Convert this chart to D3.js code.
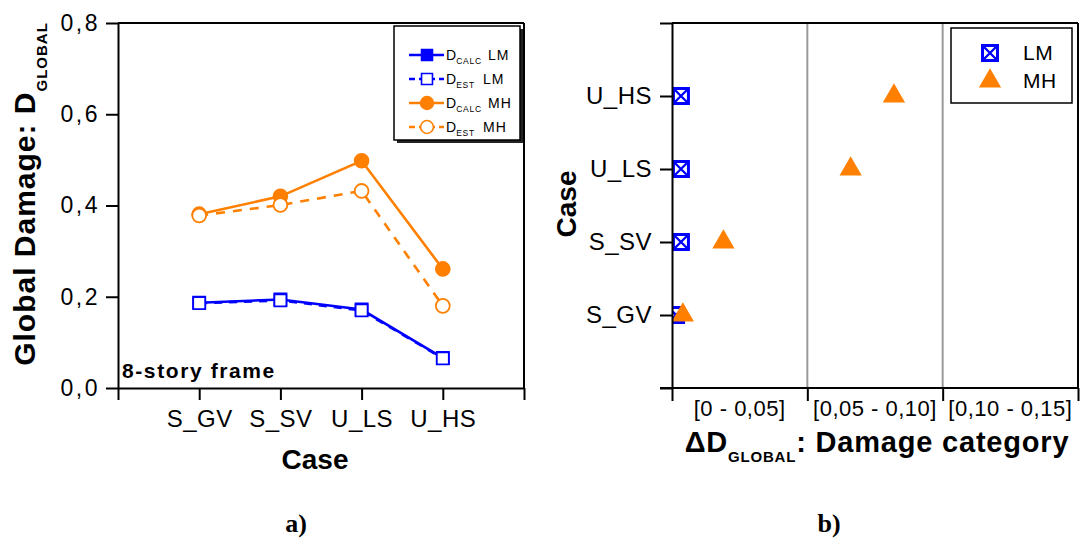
<!DOCTYPE html>
<html>
<head>
<meta charset="utf-8">
<script src="https://cdn.jsdelivr.net/npm/d3@7"></script>
<style>
  body { margin: 0; background: #fff; }
  svg { display: block; }
  text { font-family: "Liberation Sans", Arial, sans-serif; fill: #000; }
</style>
</head>
<body>
<svg id="fig" width="1080" height="543"></svg>
<script>
// ---- data ----
const cases = ["S_GV", "S_SV", "U_LS", "U_HS"];
// panel a) global damage index per case
const calcLM = [0.187, 0.194, 0.172, 0.066];
const estLM  = [0.186, 0.192, 0.170, 0.065];
const calcMH = [0.381, 0.420, 0.498, 0.261];
const estMH  = [0.378, 0.401, 0.432, 0.180];
const yTicksA = [0, 0.2, 0.4, 0.6, 0.8];
// panel b) difference between calculated and estimated damage
const deltaLM = [0.0015, 0.0033, 0.0033, 0.0033];
const deltaMH = [0.004, 0.019, 0.066, 0.082];
const categoryBounds = [0, 0.05, 0.10, 0.15];
const categoryLabels = ["[0 - 0,05]", "[0,05 - 0,10]", "[0,10 - 0,15]"];

const BLUE = "#0000ff", ORANGE = "#ff8000";
const svg = d3.select("#fig");
const comma = d => d3.format(".1f")(d).replace(".", ",");

// =========== panel a) ===========
const xA = d3.scaleLinear().domain([0, 5]).range([118, 524]);
const yA = d3.scaleLinear().domain([0, 0.8]).range([388, 23]);
const gA = svg.append("g");

// frame top / right
gA.append("line").attr("x1", xA(0)).attr("x2", xA(5)).attr("y1", yA(0.8)).attr("y2", yA(0.8))
  .attr("stroke", "#000").attr("stroke-width", 2);
gA.append("line").attr("x1", xA(5)).attr("x2", xA(5)).attr("y1", yA(0.8)).attr("y2", yA(0))
  .attr("stroke", "#000").attr("stroke-width", 2);

function styleAxis(g, size, spacing) {
  g.select(".domain").attr("stroke", "#000").attr("stroke-width", 2);
  g.selectAll(".tick line").attr("stroke", "#000").attr("stroke-width", 2);
  g.selectAll(".tick text").attr("font-size", size)
    .attr("font-family", "Liberation Sans, Arial, sans-serif")
    .attr("letter-spacing", spacing).attr("fill", "#000");
}

const axYA = gA.append("g").attr("transform", `translate(${xA(0)},0)`)
  .call(d3.axisLeft(yA).tickValues(yTicksA).tickSize(12).tickSizeOuter(0).tickPadding(6).tickFormat(comma));
styleAxis(axYA, 23, 2.5);

const axXA = gA.append("g").attr("transform", `translate(0,${yA(0)})`)
  .call(d3.axisBottom(xA).tickValues([0, 1, 2, 3, 4, 5]).tickSize(12).tickSizeOuter(0).tickPadding(10)
    .tickFormat(d => cases[d - 1] || ""));
styleAxis(axXA, 24, 0.5);

// series
const lineA = d3.line().x((d, i) => xA(i + 1)).y(d => yA(d));
const series = [
  { vals: calcLM, color: BLUE,   dash: null,  shape: d3.symbolSquare, fill: true },
  { vals: estLM,  color: BLUE,   dash: "8,7", shape: d3.symbolSquare, fill: false },
  { vals: calcMH, color: ORANGE, dash: null,  shape: d3.symbolCircle, fill: true },
  { vals: estMH,  color: ORANGE, dash: "9,8", shape: d3.symbolCircle, fill: false }
];
series.forEach(s => {
  gA.append("path").datum(s.vals).attr("d", lineA).attr("fill", "none")
    .attr("stroke", s.color).attr("stroke-width", 2.6)
    .attr("stroke-dasharray", s.dash);
  const size = s.shape === d3.symbolSquare ? 144 : 150;
  gA.selectAll(null).data(s.vals).enter().append("path")
    .attr("d", d3.symbol().type(s.shape).size(size))
    .attr("transform", (d, i) => `translate(${xA(i + 1)},${yA(d)})`)
    .attr("fill", s.fill ? s.color : "#fff")
    .attr("stroke", s.color).attr("stroke-width", 1.8);
});

gA.append("text").attr("x", 122).attr("y", 378)
  .attr("font-size", 21).attr("font-weight", "bold").attr("letter-spacing", 1.6)
  .text("8-story frame");

// legend a)
const legA = gA.append("g");
legA.append("rect").attr("x", 397).attr("y", 29).attr("width", 126).attr("height", 114).attr("fill", "#222");
legA.append("rect").attr("x", 394).attr("y", 26).attr("width", 126).attr("height", 114)
  .attr("fill", "#fff").attr("stroke", "#000").attr("stroke-width", 1.5);
const legRows = [
  { s: series[0], sub: "CALC", name: "LM", nx: 488 },
  { s: series[1], sub: "EST",  name: "LM", nx: 483 },
  { s: series[2], sub: "CALC", name: "MH", nx: 488 },
  { s: series[3], sub: "EST",  name: "MH", nx: 483 }
];
legRows.forEach((r, i) => {
  const y = 55 + i * 24;
  legA.append("line").attr("x1", 409).attr("x2", 444).attr("y1", y).attr("y2", y)
    .attr("stroke", r.s.color).attr("stroke-width", 2.4)
    .attr("stroke-dasharray", r.s.dash ? "6,4" : null);
  legA.append("path").attr("d", d3.symbol().type(r.s.shape).size(r.s.shape === d3.symbolSquare ? 120 : 130))
    .attr("transform", `translate(427,${y})`)
    .attr("fill", r.s.fill ? r.s.color : "#fff").attr("stroke", r.s.color).attr("stroke-width", 1.6);
  const t = legA.append("text").attr("x", 446).attr("y", y + 5).attr("font-size", 14);
  t.append("tspan").text("D");
  t.append("tspan").attr("dy", 4).attr("font-size", 8.5).attr("letter-spacing", 0.8).text(r.sub);
  legA.append("text").attr("x", r.nx).attr("y", y + 5).attr("font-size", 14).attr("letter-spacing", 1)
    .text(r.name);
});

// axis titles a)
const ytA = svg.append("text").attr("transform", "translate(35,194) rotate(-90)")
  .attr("text-anchor", "middle").attr("font-size", 30).attr("font-weight", "bold").attr("letter-spacing", 1);
ytA.append("tspan").text("Global Damage: D");
ytA.append("tspan").attr("dy", 12).attr("font-size", 15).text("GLOBAL");

svg.append("text").attr("x", 315).attr("y", 469).attr("text-anchor", "middle")
  .attr("font-size", 28).attr("font-weight", "bold").text("Case");

svg.append("text").attr("x", 296).attr("y", 532).attr("text-anchor", "middle")
  .attr("font-size", 26).attr("font-weight", "bold")
  .style("font-family", "Liberation Serif, Times New Roman, serif").text("a)");

// =========== panel b) ===========
const xB = d3.scaleLinear().domain([0, 0.15]).range([672, 1078]);
const yB = d3.scaleLinear().domain([0, 5]).range([388, 23]);
const gB = svg.append("g");

// category separators
gB.selectAll(null).data(categoryBounds.slice(1, 3)).enter().append("line")
  .attr("x1", d => xB(d)).attr("x2", d => xB(d)).attr("y1", yB(5)).attr("y2", yB(0))
  .attr("stroke", "#9a9a9a").attr("stroke-width", 2);

gB.append("line").attr("x1", xB(0)).attr("x2", xB(0.15)).attr("y1", yB(5)).attr("y2", yB(5))
  .attr("stroke", "#000").attr("stroke-width", 2);
gB.append("line").attr("x1", xB(0.15)).attr("x2", xB(0.15)).attr("y1", yB(5)).attr("y2", yB(0))
  .attr("stroke", "#000").attr("stroke-width", 2);

// markers clipped to the plot area
svg.append("defs").append("clipPath").attr("id", "clipB").append("rect")
  .attr("x", xB(0)).attr("y", yB(5)).attr("width", xB(0.15) - xB(0)).attr("height", yB(0) - yB(5));
const mB = gB.append("g").attr("clip-path", "url(#clipB)");

function boxX(g, cx, cy) {
  const h = 7.5;
  g.append("rect").attr("x", cx - h).attr("y", cy - h).attr("width", 2 * h).attr("height", 2 * h)
    .attr("fill", "#fff").attr("stroke", BLUE).attr("stroke-width", 3);
  g.append("path").attr("d", `M${cx - h},${cy - h}L${cx + h},${cy + h}M${cx + h},${cy - h}L${cx - h},${cy + h}`)
    .attr("stroke", BLUE).attr("stroke-width", 2.4);
}
deltaLM.forEach((d, i) => boxX(mB, xB(d), yB(i + 1)));
mB.selectAll(null).data(deltaMH).enter().append("path")
  .attr("d", d3.symbol().type(d3.symbolTriangle).size(215))
  .attr("transform", (d, i) => `translate(${xB(d)},${yB(i + 1)})`)
  .attr("fill", ORANGE);

const axYB = gB.append("g").attr("transform", `translate(${xB(0)},0)`)
  .call(d3.axisLeft(yB).tickValues([0, 1, 2, 3, 4, 5]).tickSize(12).tickSizeOuter(0).tickPadding(8)
    .tickFormat(d => cases[d - 1] || ""));
styleAxis(axYB, 24, 0.5);

const axXB = gB.append("g").attr("transform", `translate(0,${yB(0)})`)
  .call(d3.axisBottom(xB).tickValues(categoryBounds).tickSize(13).tickSizeOuter(0).tickFormat(""));
styleAxis(axXB, 22, 0);
axXB.select(".domain").attr("d", `M${xB(0) - 12},0H${xB(0.15)}`);

gB.selectAll(null).data(categoryLabels).enter().append("text")
  .attr("x", (d, i) => xB((categoryBounds[i] + categoryBounds[i + 1]) / 2))
  .attr("y", 416).attr("text-anchor", "middle").attr("font-size", 22).attr("letter-spacing", 0.5)
  .text(d => d);

// legend b)
const legB = gB.append("g");
legB.append("rect").attr("x", 951).attr("y", 28).attr("width", 121).attr("height", 75)
  .attr("fill", "#fff").attr("stroke", "#000").attr("stroke-width", 1.5);
boxX(legB, 990, 53);
legB.append("path").attr("d", d3.symbol().type(d3.symbolTriangle).size(215))
  .attr("transform", "translate(990,81)").attr("fill", ORANGE);
legB.append("text").attr("x", 1023).attr("y", 60).attr("font-size", 21).attr("letter-spacing", 0.5).text("LM");
legB.append("text").attr("x", 1023).attr("y", 88).attr("font-size", 21).attr("letter-spacing", 0.5).text("MH");

// axis titles b)
svg.append("text").attr("transform", "translate(576,204) rotate(-90)").attr("text-anchor", "middle")
  .attr("font-size", 28).attr("font-weight", "bold").text("Case");

const xtB = svg.append("text").attr("x", 877).attr("y", 452).attr("text-anchor", "middle")
  .attr("font-size", 29).attr("font-weight", "bold").attr("letter-spacing", 0.8);
xtB.append("tspan").text("\u0394D");
xtB.append("tspan").attr("dy", 10).attr("font-size", 15).text("GLOBAL");
xtB.append("tspan").attr("dy", -10).text(": Damage category");

svg.append("text").attr("x", 829).attr("y", 532).attr("text-anchor", "middle")
  .attr("font-size", 26).attr("font-weight", "bold")
  .style("font-family", "Liberation Serif, Times New Roman, serif").text("b)");
</script>
</body>
</html>
